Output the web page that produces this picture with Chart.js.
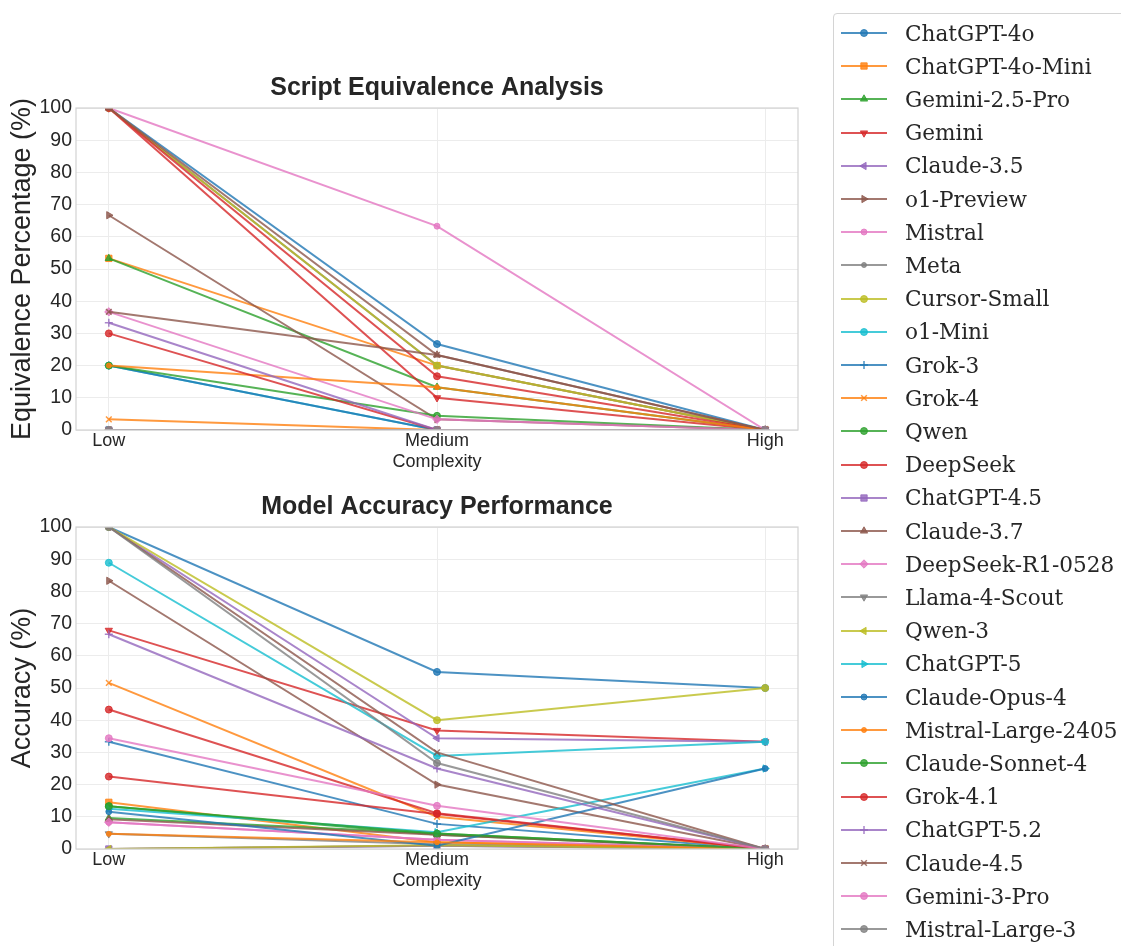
<!DOCTYPE html>
<html>
<head>
<meta charset="utf-8">
<title>Script Equivalence / Model Accuracy</title>
<script src="https://cdn.jsdelivr.net/npm/chart.js@4.4.1/dist/chart.umd.min.js"></script>
<style>
  html, body { margin: 0; padding: 0; background: #fff; }
  body { width: 1121px; height: 946px; position: relative; overflow: hidden; }
  #equivBox { position: absolute; left: 0; top: 0; }
  #accBox { position: absolute; left: 0; top: 471px; }
  #legend {
    position: absolute; left: 833px; top: 13px; width: 330px; height: 960px;
    border: 1px solid #d4d4d4; border-radius: 4px; background: #fff; box-sizing: border-box;
  }
  .legItem { position: absolute; left: 7px; height: 30px; display: flex; align-items: center; }
  .legItem canvas { width: 48px; height: 20px; }
  .legItem span {
    margin-left: 16px; font-family: 'DejaVu Serif', serif; font-size: 21.6px; color: #262626; white-space: nowrap;
  }
</style>
</head>
<body>
<div id="equivBox"><canvas id="equivChart" width="812" height="471"></canvas></div>
<div id="accBox"><canvas id="accChart" width="812" height="419"></canvas></div>
<div id="legend"></div>

<script>
// x axis buckets
const complexityLevels = ['Low', 'Medium', 'High'];

const modelNames = [
    'ChatGPT-4o', 'ChatGPT-4o-Mini', 'Gemini-2.5-Pro', 'Gemini', 'Claude-3.5', 'o1-Preview',
    'Mistral', 'Meta', 'Cursor-Small', 'o1-Mini', 'Grok-3', 'Grok-4', 'Qwen', 'DeepSeek',
    'ChatGPT-4.5', 'Claude-3.7', 'DeepSeek-R1-0528', 'Llama-4-Scout', 'Qwen-3', 'ChatGPT-5',
    'Claude-Opus-4', 'Mistral-Large-2405', 'Claude-Sonnet-4', 'Grok-4.1', 'ChatGPT-5.2',
    'Claude-4.5', 'Gemini-3-Pro', 'Mistral-Large-3'
];

// Script equivalence (%) - one value per model for each complexity bucket
const equivLow    = [100, 53.3, 53.3, 100, 0, 66.7, 100, 100, 100, 20, 20, 3.3, 20, 100,
                     0, 100, 36.7, 0, 0, 0, 0, 20, 0, 30, 33.3, 36.7, 0, 0];
const equivMedium = [26.7, 20, 13.3, 10, 0, 3.3, 63.3, 20, 20, 0, 0, 0, 4.4, 16.7,
                     0, 23.3, 3.3, 0, 0, 0, 0, 13.3, 0, 0, 0, 23.3, 0, 0];
const equivHigh   = [0, 0, 0, 0, 0, 0, 0, 0, 0, 0, 0, 0, 0, 0,
                     0, 0, 0, 0, 0, 0, 0, 0, 0, 0, 0, 0, 0, 0];

// Accuracy (%) - same layout
const accLow    = [100, 14.5, 9.6, 67.9, 100, 83.3, 8.3, 0, 100, 88.9, 33.3, 51.6, 13.3, 43.3,
                   0, 9.2, 8.3, 4.7, 0, 12.5, 11.6, 4.7, 13.3, 22.5, 66.7, 100, 34.4, 100];
const accMedium = [55, 2.1, 4.8, 36.8, 34.4, 20, 2.9, 1, 40, 28.9, 7.8, 10, 4.4, 11.1,
                   1, 4.4, 2.9, 1.5, 1.2, 5.2, 1, 2.1, 4.8, 10.9, 25, 30, 13.4, 26.7];
const accHigh   = [50, 0, 0, 33.3, 33.3, 0, 0, 0, 50, 33.3, 0, 0, 0, 0,
                   0, 0, 0, 0, 0, 25, 25, 0, 0, 0, 0, 0, 0, 0];

// tab10 colour cycle
const tab10 = [
    [31, 119, 180], [255, 127, 14], [44, 160, 44], [214, 39, 40], [148, 103, 189],
    [140, 86, 75], [227, 119, 194], [127, 127, 127], [188, 189, 34], [23, 190, 207]
];

// marker per model: [pointStyle, rotation, radius]
const markerStyles = [
    ['circle', 0, 3.5], ['rect', 0, 4.5], ['triangle', 0, 4.2], ['triangle', 180, 4.2],
    ['triangle', 270, 4.2], ['triangle', 90, 4.2], ['circle', 0, 3], ['circle', 0, 2.5],
    ['circle', 0, 3.5], ['circle', 0, 3.5], ['cross', 0, 4], ['crossRot', 0, 4],
    ['circle', 0, 3.5], ['circle', 0, 3.5], ['rect', 0, 4.5], ['triangle', 0, 4.2],
    ['rectRot', 0, 4.2], ['triangle', 180, 4.2], ['triangle', 270, 4.2], ['triangle', 90, 4.2],
    ['circle', 0, 3], ['circle', 0, 2.5], ['circle', 0, 3.5], ['circle', 0, 3.5],
    ['cross', 0, 4], ['crossRot', 0, 4], ['circle', 0, 3.5], ['circle', 0, 3.5]
];

const AXIS_FONT = "'Liberation Sans', Arial, Helvetica, sans-serif";
const TEXT_COLOR = '#262626';

function rgba(i, a) {
    const c = tab10[i % tab10.length];
    return 'rgba(' + c[0] + ',' + c[1] + ',' + c[2] + ',' + a + ')';
}

function isStrokeOnly(style) {
    return style === 'cross' || style === 'crossRot';
}

// one line dataset per model
function buildDatasets(low, medium, high) {
    return modelNames.map(function (name, i) {
        const m = markerStyles[i];
        const col = rgba(i, 0.8);
        return {
            label: name,
            data: [low[i], medium[i], high[i]].map(function (v, j) { return { x: j, y: v }; }),
            borderColor: col,
            backgroundColor: col,
            borderWidth: 2,
            pointStyle: m[0],
            rotation: m[1],
            pointRadius: m[2],
            pointBackgroundColor: col,
            pointBorderColor: col,
            pointBorderWidth: isStrokeOnly(m[0]) ? 1.5 : 1,
            tension: 0,
            clip: 0,
            order: modelNames.length - i   // later models sit on top
        };
    });
}

// light frame round the plot area
const axesFrame = {
    id: 'axesFrame',
    afterDatasetsDraw(chart) {
        const a = chart.chartArea;
        const ctx = chart.ctx;
        ctx.save();
        ctx.strokeStyle = '#d2d2d2';
        ctx.lineWidth = 1.2;
        ctx.strokeRect(a.left, a.top, a.right - a.left, a.bottom - a.top);
        ctx.restore();
    }
};

function makeChart(canvasId, title, yTitle, datasets, titlePadTop) {
    const ctx = document.getElementById(canvasId).getContext('2d');
    return new Chart(ctx, {
        type: 'line',
        data: { datasets: datasets },
        plugins: [axesFrame],
        options: {
            responsive: false,
            animation: false,
            devicePixelRatio: 1,
            layout: { padding: { left: 0, right: 14, top: 0, bottom: 0 } },
            plugins: {
                legend: { display: false },
                tooltip: { enabled: false },
                title: {
                    display: true,
                    text: title,
                    fullSize: false,
                    color: TEXT_COLOR,
                    font: { family: AXIS_FONT, size: 25, weight: 'bold', lineHeight: 1 },
                    padding: { top: titlePadTop, bottom: 7.5 }
                }
            },
            scales: {
                x: {
                    type: 'linear',
                    min: -0.1,
                    max: 2.1,
                    afterBuildTicks(scale) {
                        scale.ticks = complexityLevels.map(function (_, i) { return { value: i }; });
                    },
                    afterFit(scale) { scale.height = 41; },
                    ticks: {
                        padding: 0,
                        color: TEXT_COLOR,
                        font: { family: AXIS_FONT, size: 18, lineHeight: 1.2 },
                        callback: function (v) { return complexityLevels[Math.round(v)]; }
                    },
                    grid: { color: '#ececec', drawTicks: false },
                    border: { display: false },
                    title: {
                        display: true,
                        text: 'Complexity',
                        color: TEXT_COLOR,
                        font: { family: AXIS_FONT, size: 18, lineHeight: 1 },
                        padding: { top: 0, bottom: 0 }
                    }
                },
                y: {
                    min: 0,
                    max: 100,
                    afterFit(scale) { scale.width = 76; },
                    ticks: {
                        stepSize: 10,
                        padding: 4,
                        color: TEXT_COLOR,
                        font: { family: AXIS_FONT, size: 19.5 }
                    },
                    grid: { color: '#ececec', drawTicks: false },
                    border: { display: false },
                    title: {
                        display: true,
                        text: yTitle,
                        color: TEXT_COLOR,
                        font: { family: AXIS_FONT, size: 27, lineHeight: 1 },
                        padding: { top: 9, bottom: 0 }
                    }
                }
            }
        }
    });
}

makeChart('equivChart', 'Script Equivalence Analysis', 'Equivalence Percentage (%)',
    buildDatasets(equivLow, equivMedium, equivHigh), 75.5);
makeChart('accChart', 'Model Accuracy Performance', 'Accuracy (%)',
    buildDatasets(accLow, accMedium, accHigh), 23.5);

// legend: line sample + marker drawn with Chart.js's own point renderer
(function buildLegend() {
    const box = document.getElementById('legend');
    modelNames.forEach(function (name, i) {
        const row = document.createElement('div');
        row.className = 'legItem';
        row.style.top = (19 + i * 33.2 - 15) + 'px';

        const sw = document.createElement('canvas');
        sw.width = 48; sw.height = 20;
        const c = sw.getContext('2d');
        const col = rgba(i, 0.8);
        const m = markerStyles[i];
        c.strokeStyle = col;
        c.fillStyle = col;
        c.lineWidth = 2;
        c.beginPath();
        c.moveTo(0, 10);
        c.lineTo(46, 10);
        c.stroke();
        c.lineWidth = isStrokeOnly(m[0]) ? 1.5 : 1;
        if (Chart.helpers && Chart.helpers.drawPoint) {
            Chart.helpers.drawPoint(c, { pointStyle: m[0], rotation: m[1], radius: m[2], borderWidth: c.lineWidth }, 23, 10);
        } else {
            c.beginPath();
            c.arc(23, 10, m[2], 0, Math.PI * 2);
            c.fill();
        }

        const label = document.createElement('span');
        label.textContent = name;
        row.appendChild(sw);
        row.appendChild(label);
        box.appendChild(row);
    });
})();
</script>
</body>
</html>
